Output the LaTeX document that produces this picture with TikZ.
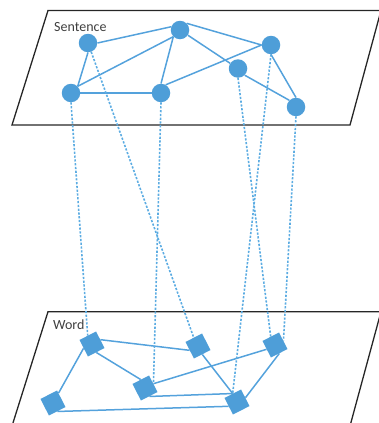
\documentclass[tikz,border=0pt]{standalone}
\usepackage{fontspec}
\setmainfont{Carlito}
\pgfdeclarelayer{planes}
\pgfdeclarelayer{links}
\pgfsetlayers{planes,links,main}
\definecolor{nodeblue}{RGB}{78,158,216}
\definecolor{edgeblue}{RGB}{84,162,220}
\definecolor{dotblue}{RGB}{92,172,226}
\definecolor{planegray}{RGB}{38,38,38}
\definecolor{labelgray}{RGB}{64,64,64}
\begin{document}
\begin{tikzpicture}[x=1pt,y=-1pt,
  sent/.style={circle,fill=nodeblue,minimum size=18.5pt,inner sep=0pt},
  word/.style={rectangle,fill=nodeblue,minimum size=18.6pt,inner sep=0pt,rotate=27},
  link/.style={draw=edgeblue,line width=1.5pt},
  proj/.style={draw=dotblue,line width=1.6pt,dash pattern=on 2.2pt off 1.6pt},
  plane/.style={draw=planegray,line width=1.3pt},
  lbl/.style={anchor=west,text=labelgray,font=\fontsize{14}{16}\selectfont,inner sep=0pt}]
\useasboundingbox (0,0) rectangle (379,423);

\begin{pgfonlayer}{planes}
\draw[plane] (48,10.5) -- (381,10.5) -- (350,125) -- (12,125) -- cycle;
\draw[plane] (48,311.7) -- (381,311.7) -- (350,426) -- (12,426) -- cycle;
\end{pgfonlayer}

\node[lbl] (sentlabel) at (54,27.5) {Sentence};
\node[lbl] (wordlabel) at (53,325) {Word};

% sentence graph
\node[sent] (A) at (88,43) {};
\node[sent] (B) at (180,30) {};
\node[sent] (C) at (271,45) {};
\node[sent] (D) at (238,68.5) {};
\node[sent] (E) at (71,93) {};
\node[sent] (F) at (161,93) {};
\node[sent] (G) at (296,107) {};

% word graph
\node[word] (P) at (92,344) {};
\node[word] (Q) at (198,346) {};
\node[word] (R) at (275,345) {};
\node[word] (S) at (145,388) {};
\node[word] (T) at (53,403) {};
\node[word] (U) at (237,402) {};

\begin{pgfonlayer}{links}
\draw[link] (A.east) -- (B.160);
\draw[link] (A.south) -- (E.north east);
\draw[link] (E.north east) -- (B.south west);
\draw[link] (E.east) -- (F.west);
\draw[link] (F.north) -- (B.south west);
\draw[link] (F.60) -- (C.west);
\draw[link] (B.north east) -- (C.west);
\draw[link] (B) -- (D);
\draw[link] (C.south) -- (G.north);
\draw[link] (D.south east) -- (G.north west);

\draw[link] (P.east) -- (Q.west);
\draw[link] (P.south) -- (S.north);
\draw[link] (P.west) -- (T);
\draw[link] (S.east) -- (R.west);
\draw[link] (S.south) -- (U.north);
\draw[link] (T.south) -- (U.west);
\draw[link] (Q.south) -- (U.north);
\draw[link] (R.south) -- (U.east);

\draw[proj] (E.south) -- (P.north);
\draw[proj] (A) -- (Q.north);
\draw[proj] (F.south) -- (S.east);
\draw[proj] (D.south) -- (R.north);
\draw[proj] (C.south) -- (U.north);
\draw[proj] (G.south) -- (R.east);
\end{pgfonlayer}
\end{tikzpicture}
\end{document}
